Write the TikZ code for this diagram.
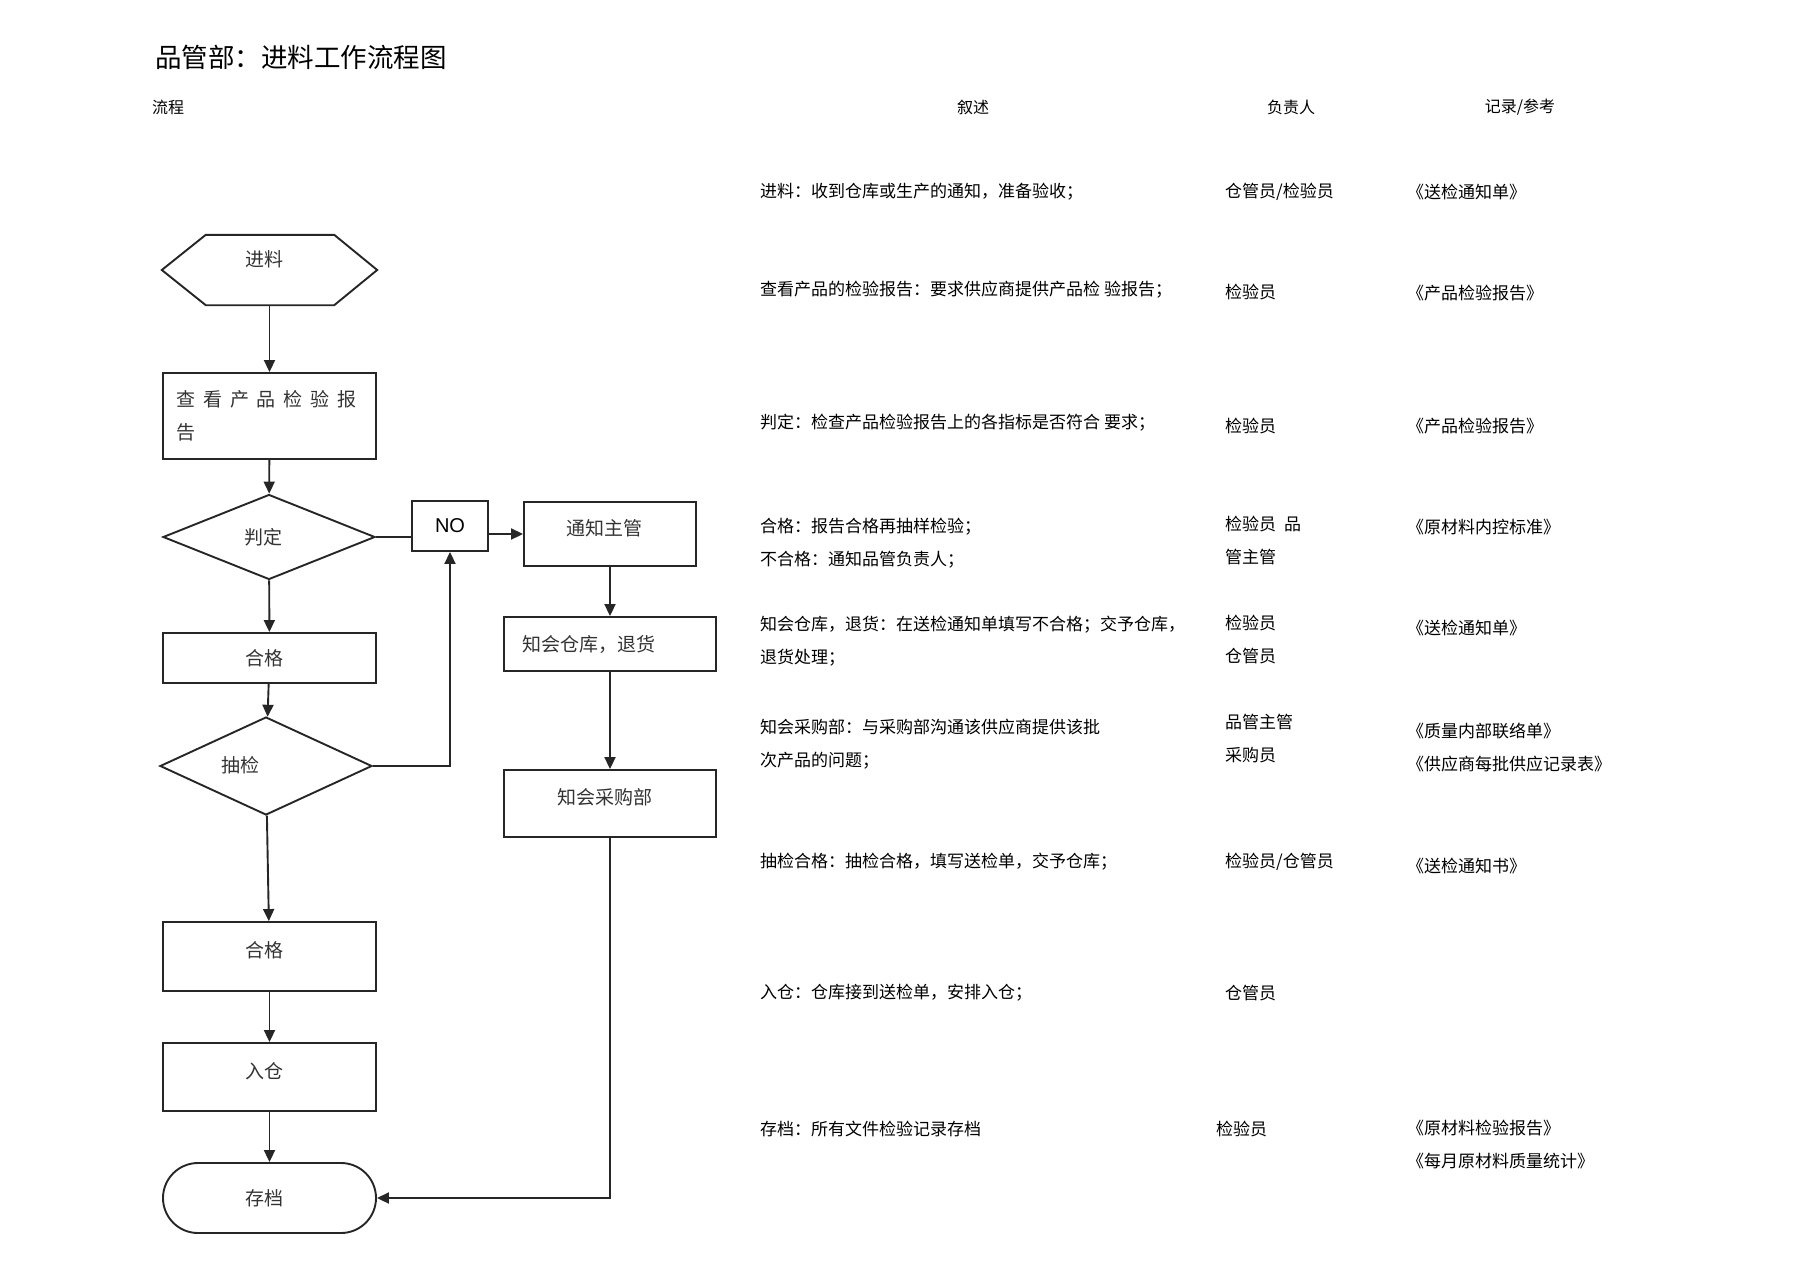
\documentclass[tikz,border=0pt]{standalone}
\usepackage{fontspec}
\setmainfont{Noto Sans CJK SC}
\newfontfamily\arialfont{Liberation Sans}
\usetikzlibrary{shapes,arrows.meta,positioning,calc}
\newcommand\kg{\hspace{8pt}}

\begin{document}
\begin{tikzpicture}[x=1pt,y=-1pt]
  \tikzstyle{box}=[rectangle, draw=black!85, line width=1.9pt, minimum width=213pt, inner sep=0pt, text=black!80, font=\fontsize{19}{33}\selectfont]
  \tikzstyle{decision}=[diamond, draw=black!85, line width=1.9pt, minimum width=212pt, inner sep=0pt, text=black!80, font=\fontsize{19}{23}\selectfont]
  \tikzstyle{terminal}=[rounded rectangle, draw=black!85, line width=1.9pt, minimum width=213pt, minimum height=70pt, inner sep=0pt, text=black!80, font=\fontsize{19}{23}\selectfont]
  \tikzstyle{raised}=[text depth=14pt]
  \tikzstyle{lefty}=[execute at end node={\hspace{11pt}}]
  \tikzstyle{line}=[line width=1.9pt, draw=black!85]
  \tikzstyle{arr}=[line, -{Triangle[length=12pt,width=11pt]}]
  \tikzstyle{txt}=[anchor=west, inner sep=0pt, align=left, font=\fontsize{17}{33}\selectfont]
  \tikzstyle{head}=[inner sep=0pt, font=\fontsize{16}{20}\selectfont]

  \useasboundingbox (0,0) rectangle (1804,1274);

  % 标题和表头
  \node[anchor=west, inner sep=0pt, font=\fontsize{26.5}{30}\selectfont] (title) at (155,57) {品管部：进料工作流程图};
  \node[head, anchor=west] (hlc) at (152,107) {流程};
  \node[head] (hxs) at (973,107) {叙述};
  \node[head] (hfz) at (1291,107) {负责人};
  \node[head] (hjl) at (1520,107) {记录/参考};

  % 主流程
  \node[lefty, minimum width=215pt, minimum height=70pt, inner sep=0pt, text=black!80, font=\fontsize{19}{23}\selectfont, text depth=22pt] (jinliao) at (269.5,270) {进料};
  \draw[line] (jinliao.west) -- ($(jinliao.north west)+(44,0)$) -- ($(jinliao.north east)+(-43,0)$) -- (jinliao.east)
    -- ($(jinliao.south east)+(-43,0)$) -- ($(jinliao.south west)+(44,0)$) -- cycle;
  \node[box, minimum height=86pt, text width=187pt, align=left, inner xsep=13pt] (chakan) at (269.5,416) {查\kg 看\kg 产\kg 品\kg 检\kg 验\kg 报\\告};
  \node[decision, lefty, minimum height=85pt] (panding) at (269,537) {判定};
  \node[box, lefty, minimum height=50pt] (hege1) at (269.5,658) {合格};
  \node[decision, minimum height=98pt] (choujian) at (266,766) {};
  \node[inner sep=0pt, text=black!80, font=\fontsize{19}{23}\selectfont] (cjtxt) at (240,765) {抽检};
  \node[box, lefty, raised, minimum height=69pt] (hege2) at (269.5,956.5) {合格};
  \node[box, lefty, raised, minimum height=68pt] (rucang) at (269.5,1077) {入仓};
  \node[terminal, lefty] (cundang) at (269.5,1198) {存档};

  % 不合格分支
  \node[box, minimum width=76pt, minimum height=50pt, text=black, font=\arialfont\fontsize{20}{24}\selectfont] (no) at (450,526) {NO};
  \node[box, lefty, raised, minimum width=172pt, minimum height=64pt] (tongzhi) at (610,534) {通知主管};
  \node[box, minimum width=212pt, minimum height=54pt, text width=176pt, align=left, inner xsep=18pt] (zhihui) at (610,644) {知会仓库，退货};
  \node[box, lefty, raised, minimum width=212pt, minimum height=67pt] (caigou) at (610,803.5) {知会采购部};

  % 连线
  \draw[arr] (jinliao.south) -- (chakan.north);
  \draw[arr] (chakan) -- (panding);
  \draw[arr] (panding) -- (hege1);
  \draw[arr] (hege1) -- (choujian);
  \draw[arr] (choujian) -- (hege2);
  \draw[arr] (hege2) -- (rucang);
  \draw[arr] (rucang) -- (cundang);
  \draw[line] (panding.east) -- (panding.east -| no.west);
  \draw[arr] (no.east |- tongzhi.west) -- (tongzhi.west);
  \draw[arr] (choujian.east) -| (no.south);
  \draw[arr] (tongzhi) -- (zhihui);
  \draw[arr] (zhihui) -- (caigou);
  \draw[arr] (caigou.south) |- (cundang.east);

  % 叙述 / 负责人 / 记录
  \node[txt] (xs1) at (760,192) {进料：收到仓库或生产的通知，准备验收；};
  \node[txt] (fz1) at (1225,192) {仓管员/检验员};
  \node[txt] (jl1) at (1407,192) {《送检通知单》};

  \node[txt] (xs2) at (760,290) {查看产品的检验报告：要求供应商提供产品检 验报告；};
  \node[txt] (fz2) at (1225,292) {检验员};
  \node[txt] (jl2) at (1407,293) {《产品检验报告》};

  \node[txt] (xs3) at (760,423) {判定：检查产品检验报告上的各指标是否符合 要求；};
  \node[txt] (fz3) at (1225,426) {检验员};
  \node[txt] (jl3) at (1407,426) {《产品检验报告》};

  \node[txt] (xs4) at (760,543) {合格：报告合格再抽样检验；\\不合格：通知品管负责人；};
  \node[txt] (fz4) at (1225,540) {检验员\hspace{8pt}品\\管主管};
  \node[txt] (jl4) at (1407,527) {《原材料内控标准》};

  \node[txt] (xs5) at (760,641) {知会仓库，退货：在送检通知单填写不合格；交予仓库，\\退货处理；};
  \node[txt] (fz5) at (1225,640) {检验员\\仓管员};
  \node[txt] (jl5) at (1407,628) {《送检通知单》};

  \node[txt] (xs6) at (760,744.5) {知会采购部：与采购部沟通该供应商提供该批\\次产品的问题；};
  \node[txt] (fz6) at (1225,738.5) {品管主管\\采购员};
  \node[txt] (jl6) at (1407,747) {《质量内部联络单》\\《供应商每批供应记录表》};

  \node[txt] (xs7) at (760,862) {抽检合格：抽检合格，填写送检单，交予仓库；};
  \node[txt] (fz7) at (1225,862) {检验员/仓管员};
  \node[txt] (jl7) at (1407,866) {《送检通知书》};

  \node[txt] (xs8) at (760,993) {入仓：仓库接到送检单，安排入仓；};
  \node[txt] (fz8) at (1225,993) {仓管员};

  \node[txt] (xs9) at (760,1129) {存档：所有文件检验记录存档};
  \node[txt] (fz9) at (1216,1129) {检验员};
  \node[txt] (jl9) at (1407,1144.5) {《原材料检验报告》\\《每月原材料质量统计》};
\end{tikzpicture}
\end{document}
